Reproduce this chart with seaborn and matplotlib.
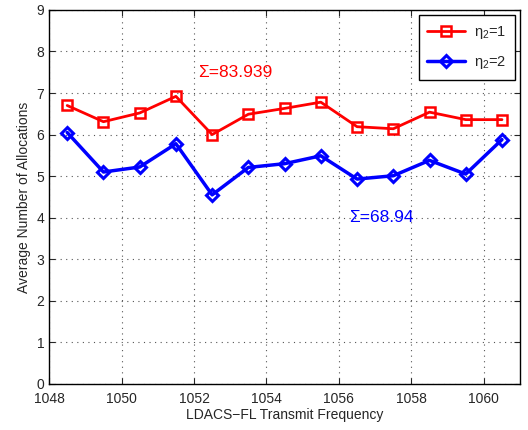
import matplotlib
matplotlib.use("Agg")
import matplotlib.pyplot as plt
import seaborn as sns
import pandas as pd

freqs = [1048.5, 1049.5, 1050.5, 1051.5, 1052.5, 1053.5, 1054.5, 1055.5, 1056.5, 1057.5, 1058.5, 1059.5, 1060.5]
eta1 = [6.70, 6.31, 6.52, 6.92, 6.00, 6.49, 6.63, 6.78, 6.19, 6.14, 6.54, 6.36, 6.36]
eta2 = [6.05, 5.10, 5.22, 5.78, 4.55, 5.21, 5.30, 5.49, 4.93, 5.01, 5.38, 5.05, 5.88]
xticks = [1048, 1050, 1052, 1054, 1056, 1058, 1060]
yticks = [0, 1, 2, 3, 4, 5, 6, 7, 8, 9]

sns.set_style("ticks")
plt.rcParams['font.family'] = ['Liberation Sans', 'DejaVu Sans']
plt.rcParams['mathtext.fontset'] = 'custom'
plt.rcParams['mathtext.rm'] = 'Liberation Sans'
plt.rcParams['mathtext.it'] = 'Liberation Sans'

fig = plt.figure(figsize=(5.28, 4.30), dpi=100)
ax = fig.add_axes([0.093, 0.107, 0.892, 0.870])

df1 = pd.DataFrame({'f': freqs, 'v': eta1})
df2 = pd.DataFrame({'f': freqs, 'v': eta2})
sns.lineplot(data=df1, x='f', y='v', ax=ax, color='#ff0000', lw=2, marker='s',
             markersize=7, markerfacecolor='none', markeredgecolor='#ff0000',
             markeredgewidth=1.8, label=r'η$_2$=1')
sns.lineplot(data=df2, x='f', y='v', ax=ax, color='#0000ff', lw=2.5, marker='D',
             markersize=6, markerfacecolor='none', markeredgecolor='#0000ff',
             markeredgewidth=2.2, label=r'η$_2$=2')

ax.set_xlim(1048, 1061)
ax.set_ylim(0, 9)
ax.set_xticks(xticks)
ax.set_yticks(yticks)
ax.tick_params(direction='in', labelsize=10, length=4, top=True, right=True)
ax.tick_params(axis='x', pad=6)
ax.grid(True, linestyle=(0, (1, 4)), color='#555555', linewidth=0.8)
for s in ax.spines.values():
    s.set_linewidth(1.0)
    s.set_color('black')
ax.set_xlabel('LDACS\u2212FL Transmit Frequency', fontsize=10, labelpad=1)
ax.set_ylabel('Average Number of Allocations', fontsize=10)

ax.text(1052.1, 7.5, 'Σ=83.939', color='#ff0000', fontsize=12.5, va='center', ha='left')
ax.text(1056.27, 4.0, 'Σ=68.94', color='#0000ff', fontsize=12.5, va='center', ha='left')

leg = ax.legend(loc='upper right', fontsize=10.5, frameon=True, fancybox=False,
                edgecolor='black', framealpha=1, handlelength=2.6, numpoints=1,
                borderaxespad=0.35, labelspacing=0.9, borderpad=0.6,
                handletextpad=0.6)
leg.get_frame().set_linewidth(1.0)

fig.savefig('out.png', dpi=100)
